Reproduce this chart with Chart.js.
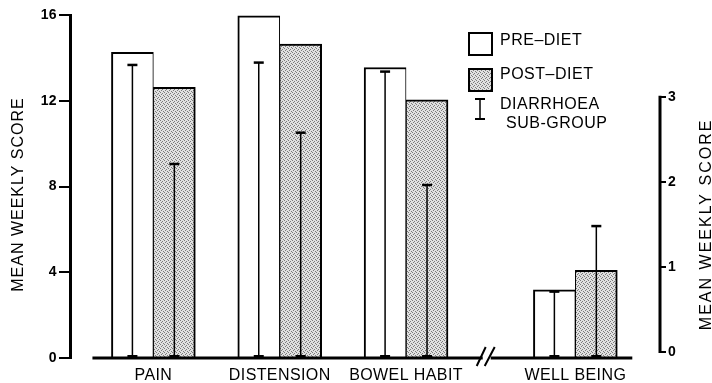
<!DOCTYPE html>
<html><head><meta charset="utf-8">
<script src="https://cdn.jsdelivr.net/npm/chart.js@4/dist/chart.umd.min.js"></script>
<style>html,body{margin:0;padding:0;background:#fff}#wrap{width:712px;height:383px;position:relative}</style>
</head><body><div id="wrap"><canvas id="c"></canvas></div>
<script>
// ---- data ----
const categories = ['PAIN', 'DISTENSION', 'BOWEL HABIT', 'WELL BEING'];
// left scale (0-16): first three categories
const preDiet = [14.26, 15.96, 13.55];
const postDiet = [12.63, 14.64, 12.04];
const diarrhoeaPre = [13.67, 13.78, 13.36];
const diarrhoeaPost = [9.05, 10.51, 8.07];
// right scale (0-3): well being
const wellPre = [0.73];
const wellPost = [0.96];
const wellDiarrhoeaPre = [0.71];
const wellDiarrhoeaPost = [1.48];
const leftTicks = [0, 4, 8, 12, 16];
const rightTicks = [0, 1, 2, 3];
const legendLabels = ['PRE–DIET', 'POST–DIET', 'DIARRHOEA', 'SUB-GROUP'];
const axisTitle = 'MEAN WEEKLY SCORE';

// ---- layout constants ----
const BREAK_GAP = 0.34;     // extra category space at the axis break
const HALF = 0.166;         // half bar width in category units
const X_MIN = -0.66, X_MAX = 4.01;
const RIGHT_MIN = -0.07, RIGHT_MAX = 3.96;
const FONT = '"Liberation Sans", Arial, Helvetica, sans-serif';

const catPos = i => (i < 3 ? i : i + BREAK_GAP);

// stipple pattern for post-diet bars
const pc = document.createElement('canvas');
pc.width = 4; pc.height = 4;
const pctx = pc.getContext('2d');
pctx.fillStyle = '#e0e0e0'; pctx.fillRect(0, 0, 4, 4);
pctx.fillStyle = '#7a7a7a';
[[0,0],[2,1],[1,2],[3,3]].forEach(([a,b]) => pctx.fillRect(a, b, 1, 1));
const stipple = pctx.createPattern(pc, 'repeat');

const preStyle = {backgroundColor: '#ffffff', borderColor: '#000', borderWidth: {top: 2, left: 2, right: 1, bottom: 0}};
const postStyle = {backgroundColor: stipple, borderColor: '#000', borderWidth: {top: 2, left: 1, right: 2, bottom: 0}};

const datasets = [
  Object.assign({label: legendLabels[0], yAxisID: 'y', err: diarrhoeaPre,
    data: preDiet.map((v, i) => ({x: catPos(i) - HALF, y: v}))}, preStyle),
  Object.assign({label: legendLabels[1], yAxisID: 'y', err: diarrhoeaPost,
    data: postDiet.map((v, i) => ({x: catPos(i) + HALF, y: v}))}, postStyle),
  Object.assign({label: legendLabels[0], yAxisID: 'y2', base: RIGHT_MIN, err: wellDiarrhoeaPre,
    data: wellPre.map((v, i) => ({x: catPos(3 + i) - HALF, y: v}))}, preStyle),
  Object.assign({label: legendLabels[1], yAxisID: 'y2', base: RIGHT_MIN, err: wellDiarrhoeaPost,
    data: wellPost.map((v, i) => ({x: catPos(3 + i) + HALF, y: v}))}, postStyle)
];

const decor = {
  id: 'decor',
  beforeDraw(chart) { chart.ctx.letterSpacing = '0.4px'; },
  afterDatasetsDraw(chart) {
    const ctx = chart.ctx;
    const y = chart.scales.y, y2 = chart.scales.y2, x = chart.scales.x;
    const base = y.getPixelForValue(0);
    ctx.save();
    ctx.strokeStyle = '#000'; ctx.fillStyle = '#000';
    // error bars (diarrhoea sub-group)
    chart.data.datasets.forEach((ds, di) => {
      const meta = chart.getDatasetMeta(di);
      const sc = chart.scales[ds.yAxisID];
      meta.data.forEach((bar, i) => {
        const top = sc.getPixelForValue(ds.err[i]);
        ctx.lineWidth = 1.5;
        ctx.beginPath(); ctx.moveTo(bar.x, base); ctx.lineTo(bar.x, top); ctx.stroke();
        ctx.lineWidth = 2.5;
        ctx.beginPath(); ctx.moveTo(bar.x - 5, top); ctx.lineTo(bar.x + 5, top); ctx.stroke();
        ctx.fillRect(bar.x - 5, base - 3, 10, 3);
      });
    });
    // baseline with break
    const first = chart.getDatasetMeta(0).data[0];
    const last = chart.getDatasetMeta(3).data[0];
    const x0 = first.x - first.width / 2 - 19;
    const x1 = last.x + last.width / 2 + 15;
    const b = x.getPixelForValue((catPos(2) + catPos(3)) / 2) - 2;
    ctx.lineWidth = 3;
    ctx.beginPath(); ctx.moveTo(x0, base); ctx.lineTo(b - 6, base);
    ctx.moveTo(b + 2, base); ctx.lineTo(x1, base); ctx.stroke();
    ctx.lineWidth = 2;
    ctx.beginPath();
    ctx.moveTo(b - 12, base + 8); ctx.lineTo(b - 3, base - 11);
    ctx.moveTo(b - 4, base + 8); ctx.lineTo(b + 6, base - 11);
    ctx.stroke();
    // right axis line (0..3 only)
    ctx.lineWidth = 3;
    ctx.beginPath();
    ctx.moveTo(y2.left, y2.getPixelForValue(rightTicks[0]) + 1);
    ctx.lineTo(y2.left, y2.getPixelForValue(rightTicks[rightTicks.length - 1]) - 1);
    ctx.stroke();
    // axis titles
    ctx.textAlign = 'center'; ctx.textBaseline = 'middle';
    ctx.font = '16px ' + FONT;
    ctx.letterSpacing = '1px';
    ctx.save(); ctx.translate(19, (y.top + y.bottom) / 2 + 8); ctx.rotate(-Math.PI / 2);
    ctx.fillText(axisTitle, 0, 0); ctx.restore();
    ctx.font = '16px ' + FONT;
    ctx.letterSpacing = '2px';
    ctx.save(); ctx.translate(707, (y2.getPixelForValue(0) + y2.getPixelForValue(3)) / 2); ctx.rotate(-Math.PI / 2);
    ctx.fillText(axisTitle, 0, 0); ctx.restore();
    ctx.font = '16px ' + FONT;
    ctx.letterSpacing = '0.5px';
    // legend
    ctx.lineWidth = 2;
    ctx.fillStyle = '#fff'; ctx.fillRect(469, 33, 23, 22); ctx.strokeRect(469, 33, 23, 22);
    ctx.fillStyle = stipple; ctx.fillRect(469, 69, 23, 22); ctx.strokeRect(469, 69, 23, 22);
    ctx.lineWidth = 1.5;
    ctx.beginPath(); ctx.moveTo(480, 99); ctx.lineTo(480, 119); ctx.stroke();
    ctx.lineWidth = 2;
    ctx.beginPath(); ctx.moveTo(475, 99); ctx.lineTo(485, 99); ctx.moveTo(475, 119); ctx.lineTo(485, 119); ctx.stroke();
    ctx.fillStyle = '#000'; ctx.textAlign = 'left';
    ctx.fillText(legendLabels[0], 500, 41);
    ctx.fillText(legendLabels[1], 500, 75);
    ctx.fillText(legendLabels[2], 500, 105);
    ctx.fillText(legendLabels[3], 506, 124);
    ctx.restore();
  }
};

new Chart(document.getElementById('c'), {
  type: 'bar',
  data: {datasets},
  options: {
    responsive: true, maintainAspectRatio: false, animation: false,
    devicePixelRatio: 1,
    layout: {padding: {top: 15, left: 0, right: 0, bottom: 0}},
    datasets: {bar: {grouped: false, categoryPercentage: 1, barPercentage: 1, borderSkipped: 'start'}},
    plugins: {legend: {display: false}, tooltip: {enabled: false}},
    scales: {
      x: {
        type: 'linear', min: X_MIN, max: X_MAX, offset: false,
        afterBuildTicks: s => { s.ticks = categories.map((c, i) => ({value: catPos(i)})); },
        afterFit: s => { s.height = 25; },
        ticks: {autoSkip: false, maxRotation: 0, padding: 8, color: '#000',
          font: {family: FONT, size: 16},
          callback: (v, i) => categories[i]},
        grid: {display: false, drawTicks: false, offset: false}, border: {display: false}
      },
      y: {
        position: 'left', min: leftTicks[0], max: leftTicks[leftTicks.length - 1],
        afterBuildTicks: s => { s.ticks = leftTicks.map(v => ({value: v})); },
        afterFit: s => { s.width = 70; },
        ticks: {padding: 2, color: '#000', font: {family: FONT, size: 14, weight: 'bold'}},
        grid: {drawOnChartArea: false, drawTicks: true, tickLength: 11, color: '#000', lineWidth: 2},
        border: {display: true, color: '#000', width: 3}
      },
      y2: {
        position: 'right', min: RIGHT_MIN, max: RIGHT_MAX,
        afterBuildTicks: s => { s.ticks = rightTicks.map(v => ({value: v})); },
        afterFit: s => { s.width = 52; },
        ticks: {padding: 2, color: '#000', font: {family: FONT, size: 14, weight: 'bold'}},
        grid: {drawOnChartArea: false, drawTicks: true, tickLength: 6, color: '#000', lineWidth: 2},
        border: {display: false}
      }
    }
  },
  plugins: [decor]
});
</script></body></html>
